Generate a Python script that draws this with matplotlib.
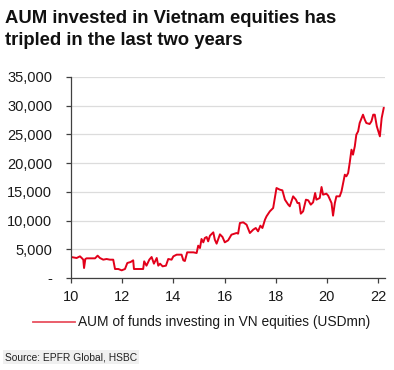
import matplotlib
matplotlib.use("Agg")
import matplotlib.pyplot as plt
from matplotlib.ticker import FuncFormatter

years = [10.00, 10.22, 10.35, 10.42, 10.48, 10.51, 10.56, 10.61, 10.94, 11.04,
         11.13, 11.26, 11.39, 11.52, 11.65, 11.72, 11.85, 11.98, 12.11, 12.20,
         12.33, 12.43, 12.46, 12.76, 12.82, 12.86, 12.95, 13.06, 13.15, 13.24,
         13.35, 13.41, 13.48, 13.58, 13.71, 13.80, 13.93, 14.00, 14.13, 14.32,
         14.39, 14.45, 14.54, 14.78, 14.91, 14.97, 15.04, 15.10, 15.17, 15.23,
         15.30, 15.36, 15.43, 15.56, 15.62, 15.69, 15.82, 15.92, 16.01, 16.14,
         16.27, 16.47, 16.53, 16.60, 16.73, 16.86, 16.99, 17.12, 17.22, 17.31,
         17.40, 17.48, 17.58, 17.64, 17.77, 17.90, 18.03, 18.16, 18.26, 18.36,
         18.49, 18.55, 18.68, 18.79, 18.85, 18.92, 18.98, 19.07, 19.18, 19.27,
         19.37, 19.46, 19.54, 19.59, 19.72, 19.79, 19.85, 19.98, 20.05, 20.18,
         20.24, 20.31, 20.37, 20.50, 20.57, 20.70, 20.76, 20.83, 20.89, 20.96,
         21.02, 21.09, 21.15, 21.22, 21.28, 21.41, 21.48, 21.54, 21.67, 21.74,
         21.81, 21.87, 21.95, 22.07, 22.14, 22.22]
aum = [3657, 3482, 3773, 3482, 3192, 1741, 3308, 3424, 3424, 3889,
       3482, 3192, 3308, 3192, 3192, 1567, 1567, 1335, 1567, 2612,
       2786, 3076, 1567, 1567, 1567, 2902, 2147, 3192, 3657, 2496,
       3482, 2147, 2496, 2031, 2147, 3308, 3192, 3773, 4063, 4063,
       3076, 2960, 4469, 4469, 4353, 5630, 5224, 6791, 6210, 6965,
       7139, 6384, 7371, 7951, 6675, 5978, 7603, 7139, 6210, 6559,
       7545, 7835, 7719, 9577, 9693, 9286, 7835, 8416, 8706, 8126,
       9112, 8706, 10157, 10737, 11608, 12188, 15671, 15381, 15265, 13639,
       12769, 12479, 14220, 13639, 13059, 13059, 11202, 11608, 13639, 13523,
       12769, 13175, 14800, 13639, 13930, 15845, 14510, 14684, 14336, 13059,
       10853, 13059, 14220, 14220, 15090, 17992, 17702, 18283, 20024, 22345,
       21475, 22926, 24957, 25538, 26989, 28440, 27569, 26989, 26814, 27279,
       28440, 28440, 26408, 24667, 27859, 29600]

xticks = [10, 12, 14, 16, 18, 20, 22]
yticks = [0, 5000, 10000, 15000, 20000, 25000, 30000, 35000]
title_lines = ["AUM invested in Vietnam equities has", "tripled in the last two years"]
series_label = "AUM of funds investing in VN equities (USDmn)"
source = "Source: EPFR Global, HSBC"

plt.rcParams['font.family'] = ['Liberation Sans', 'DejaVu Sans']

W, H = 394, 370
fig = plt.figure(figsize=(W/100, H/100), dpi=100)
ax = fig.add_axes([71/W, 1-278/H, 314/W, 201/H])

ax.plot(years, aum, color='#e2001a', lw=1.4)
ax.set_xlim(10, 22.27)
ax.set_ylim(0, 35000)
ax.set_xticks(xticks)
ax.set_yticks(yticks)
ax.yaxis.set_major_formatter(FuncFormatter(lambda v, p: '-' if v == 0 else f"{int(v):,}"))
ax.grid(axis='y', color='#dcdcdc', lw=0.9)
ax.set_axisbelow(True)
for s in ['top', 'right']:
    ax.spines[s].set_visible(False)
for s in ['left', 'bottom']:
    ax.spines[s].set_color('#404040')
    ax.spines[s].set_linewidth(0.9)
ax.tick_params(axis='both', colors='#404040', labelcolor='#1a1a1a', labelsize=10.5,
               length=3.5, width=0.9, direction='out')
ax.tick_params(axis='x', pad=5)
ax.tick_params(axis='y', pad=10)

fig.text(5/W, 1-23/H, title_lines[0], fontsize=13.3, fontweight='bold', va='baseline',
         ha='left', color='#111111')
fig.text(5/W, 1-45/H, title_lines[1], fontsize=13.3, fontweight='bold', va='baseline',
         ha='left', color='#111111')

fig.lines.append(plt.Line2D([33/W, 75/W], [1-322/H, 1-322/H],
                            transform=fig.transFigure, color='#e8505f', lw=1.3))
fig.text(78/W, 1-322/H, series_label, fontsize=9.9, va='center', ha='left', color='#1a1a1a')

fig.text(5/W, 1-357/H, source, fontsize=7.4, va='center', ha='left', color='#222222',
         bbox=dict(facecolor='#f0f0f0', edgecolor='none', pad=1.5))

fig.savefig('out.png', dpi=100)
